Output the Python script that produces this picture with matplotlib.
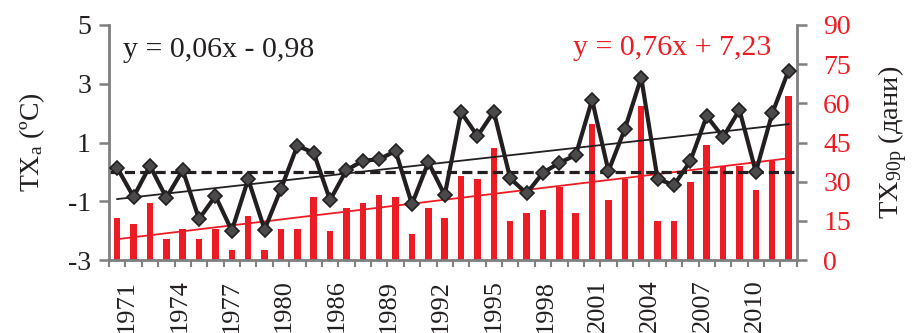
import numpy as np
import matplotlib
matplotlib.use("Agg")
import matplotlib.pyplot as plt

plt.rcParams['font.family'] = ['Liberation Serif', 'DejaVu Serif']
plt.rcParams['mathtext.fontset'] = 'custom'
plt.rcParams['mathtext.rm'] = 'Liberation Serif'
plt.rcParams['mathtext.it'] = 'Liberation Serif'
plt.rcParams['axes.unicode_minus'] = False

# ---- data ----
years = list(range(1971, 2013))
tick_labels = ["1971", "1974", "1977", "1980", "1986", "1989", "1992",
               "1995", "1998", "2001", "2004", "2007", "2010"]
txa = [0.14, -0.85, 0.21, -0.88, 0.06, -1.60, -0.82, -2.00, -0.25, -1.96,
       -0.58, 0.89, 0.65, -0.96, 0.06, 0.38, 0.43, 0.71, -1.10, 0.33,
       -0.79, 2.03, 1.22, 2.05, -0.22, -0.73, -0.03, 0.31, 0.57, 2.45,
       0.03, 1.46, 3.21, -0.24, -0.45, 0.37, 1.90, 1.18, 2.11, 0.00,
       1.99, 3.45]
tx90p = [16, 14, 22, 8, 12, 8, 12, 4, 17, 4,
         12, 12, 24, 11, 20, 22, 25, 24, 10, 20,
         16, 32, 31, 43, 15, 18, 19, 28, 18, 52,
         23, 31, 59, 15, 15, 30, 44, 36, 36, 27,
         38, 63]
txa_mean = 0.0
eq_black = "y = 0,06x - 0,98"
eq_red = "y = 0,76x + 7,23"

RED = '#ed1c24'
BLACK = '#231f20'
GRAY = '#7f7f7f'
FS = 20
FS_EQ = 21.5

fig = plt.figure(figsize=(9.13, 3.33), dpi=100)
ax = fig.add_axes([0.1194, 0.219, 0.7533, 0.706])
ax2 = ax.twinx()
ax.set_zorder(ax2.get_zorder() + 1)
ax.patch.set_visible(False)

x = np.arange(len(years))
t = x + 1

# bars and red trend (right axis)
ax2.bar(x, tx90p, width=0.4, color=RED, zorder=2)
pr = np.polyfit(t, tx90p, 1)
ax2.plot(x, np.polyval(pr, t), color=RED, lw=1.3, zorder=3)
ax2.set_ylim(0, 90)
ax2.set_yticks(np.arange(0, 91, 15))

# black series (left axis)
pb = np.polyfit(t, txa, 1)
ax.plot(x, np.polyval(pb, t), color=BLACK, lw=1.3, zorder=2)
ax.axhline(txa_mean, color=BLACK, lw=2.3, dashes=(3.2, 1.6), zorder=2)
ax.plot(x, txa, color=BLACK, lw=3, marker='D', markersize=7,
        markerfacecolor='#4a4a4a', markeredgecolor=BLACK, markeredgewidth=1.2,
        zorder=4)
ax.set_ylim(-3, 5)
ax.set_yticks([-3, -1, 1, 3, 5])
ax.set_xlim(-0.5, len(years) - 0.5)

# x ticks at category boundaries, labels placed separately
ax.set_xticks(np.arange(len(years) + 1) - 0.5)
ax.set_xticklabels([])
label_pos = 0.6 + 3.195 * np.arange(len(tick_labels))
ax.set_xticks(label_pos, minor=True)
ax.set_xticklabels(tick_labels, minor=True, rotation=90, fontsize=FS - 1,
                   color=BLACK)
ax.tick_params(axis='x', which='minor', length=0, pad=14)
ax.tick_params(axis='x', which='major', length=5, width=1.5, color=GRAY,
               direction='out')

for a in (ax, ax2):
    a.spines['top'].set_visible(False)
    for s in ('left', 'right', 'bottom'):
        a.spines[s].set_color(GRAY)
        a.spines[s].set_linewidth(2)
ax.spines['right'].set_visible(False)
ax2.spines['left'].set_visible(False)
ax2.spines['bottom'].set_visible(False)

ax.tick_params(axis='y', length=7, width=1.8, color=GRAY, labelsize=FS,
               labelcolor=BLACK, pad=6)
ax2.tick_params(axis='y', length=7, width=1.8, color=GRAY, labelsize=FS,
                labelcolor=RED, pad=12)

ax.set_ylabel("TX$_{a}$ (ºC)", fontsize=FS, color=BLACK, labelpad=15)
ax2.set_ylabel("TX$_{90p}$ (дани)", fontsize=FS + 0.5, color=BLACK,
               labelpad=18)

ax.text(0.02, 0.894, eq_black, transform=ax.transAxes, fontsize=FS_EQ,
        color=BLACK, va='center', ha='left')
ax.text(0.963, 0.902, eq_red, transform=ax.transAxes, fontsize=FS_EQ,
        color=RED, va='center', ha='right')

fig.savefig("out.png", dpi=100)
